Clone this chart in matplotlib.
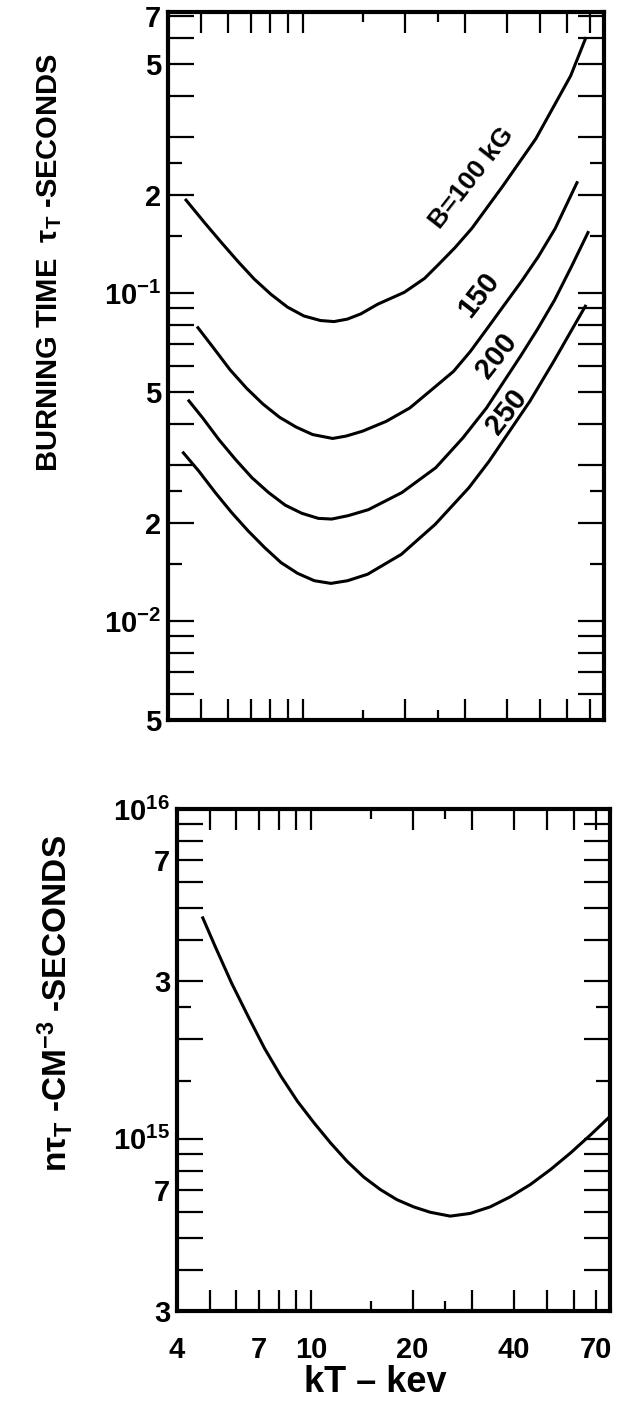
import numpy as np
import matplotlib.pyplot as plt
from matplotlib.ticker import FixedLocator, FixedFormatter, NullFormatter

plt.rcParams['font.family'] = ['Liberation Sans', 'DejaVu Sans']
plt.rcParams['font.weight'] = 'bold'
plt.rcParams['mathtext.fontset'] = 'custom'
plt.rcParams['mathtext.rm'] = 'Liberation Sans:bold'
plt.rcParams['mathtext.bf'] = 'Liberation Sans:bold'
plt.rcParams['mathtext.it'] = 'Liberation Sans:bold'
plt.rcParams['mathtext.default'] = 'bf'

# burning time tau_T (s) vs kT (keV), one curve per field B
kT_100 = [4.49, 5.13, 5.74, 6.43, 7.18, 8.04, 8.99, 10.05, 11.26, 12.33, 13.49, 14.78,
          16.58, 19.87, 22.79, 24.98, 28.01, 31.4, 38.6, 48.5, 61.4, 68.2]
tau_100 = [0.194, 0.164, 0.143, 0.125, 0.1105, 0.0993, 0.0908, 0.0853, 0.0826, 0.0820, 0.0834, 0.0865,
           0.0926, 0.1007, 0.111, 0.122, 0.1377, 0.1576, 0.211, 0.296, 0.46, 0.604]

kT_150 = [4.87, 5.45, 6.09, 6.81, 7.61, 8.52, 9.54, 10.67, 12.22, 13.38, 14.98, 17.57,
          20.62, 23.64, 27.74, 31.11, 34.93, 39.17, 43.93, 49.31, 55.3, 64.4]
tau_150 = [0.0792, 0.0681, 0.0585, 0.0514, 0.046, 0.0419, 0.0391, 0.0371, 0.0361, 0.0367, 0.038, 0.0407,
           0.0447, 0.0503, 0.0578, 0.0665, 0.0783, 0.0922, 0.1085, 0.1293, 0.1576, 0.2195]

kT_200 = [4.58, 5.06, 5.65, 6.33, 7.07, 7.91, 8.86, 9.91, 11.09, 12.14, 13.59, 15.58,
          19.56, 24.6, 29.54, 34.7, 38.93, 43.7, 49.04, 55.02, 61.8, 69.4]
tau_200 = [0.0474, 0.0417, 0.0358, 0.0311, 0.0274, 0.0247, 0.0226, 0.02135, 0.0206, 0.0205, 0.021, 0.0219,
           0.0247, 0.0294, 0.0362, 0.0447, 0.0536, 0.0643, 0.0777, 0.0952, 0.1208, 0.1547]

kT_250 = [4.41, 4.93, 5.51, 6.16, 6.89, 7.70, 8.61, 9.64, 10.79, 12.08, 13.53, 15.5,
          19.47, 24.5, 30.8, 35.35, 40.58, 46.6, 54.75, 61.5, 68.2]
tau_250 = [0.0329, 0.0287, 0.0247, 0.02145, 0.01886, 0.01679, 0.0151, 0.014, 0.0133, 0.01305, 0.0133, 0.01392,
           0.016, 0.01975, 0.02555, 0.0308, 0.038, 0.0469, 0.062, 0.0765, 0.0922]

curve_labels = ['B=100 kG', '150', '200', '250']
label_kT = [31.5, 32.9, 37.2, 39.7]
label_tau = [0.224, 0.099, 0.0643, 0.0436]

# n tau_T (cm^-3 s) vs kT (keV)
kT_n = [4.75, 5.19, 5.81, 6.50, 7.27, 8.14, 9.11, 10.2, 11.42, 12.79, 14.31, 16.03,
        17.96, 20.12, 22.55, 25.84, 29.6, 33.98, 38.95, 44.7, 51.3, 58.8, 67.5, 77.0]
ntau = [4.72e15, 3.83e15, 2.96e15, 2.35e15, 1.88e15, 1.545e15, 1.297e15, 1.116e15, 9.70e14, 8.53e14, 7.65e14, 7.01e14,
        6.53e14, 6.21e14, 5.98e14, 5.82e14, 5.93e14, 6.21e14, 6.66e14, 7.26e14, 8.06e14, 9.05e14, 1.028e15, 1.168e15]

x_major = [4, 5, 6, 7, 8, 9, 10, 20, 30, 40, 50, 60, 70]
x_labels = ['4', '', '', '7', '', '', '10', '20', '', '40', '', '', '70']
x_minor = [15, 25]

top_major = [0.005, 0.006, 0.007, 0.008, 0.009,
             0.01, 0.02, 0.03, 0.04, 0.05, 0.06, 0.07, 0.08, 0.09,
             0.1, 0.2, 0.3, 0.4, 0.5, 0.6, 0.7]
top_labels = ['5', '', '', '', '',
              r'$10^{-2}$', '2', '', '', '5', '', '', '', '',
              r'$10^{-1}$', '2', '', '', '5', '', '7']
top_minor = [0.015, 0.025, 0.15, 0.25]

bot_major = [3e14, 4e14, 5e14, 6e14, 7e14, 8e14, 9e14,
             1e15, 2e15, 3e15, 4e15, 5e15, 6e15, 7e15, 8e15, 9e15, 1e16]
bot_labels = ['3', '', '', '', '7', '', '',
              r'$10^{15}$', '', '3', '', '', '', '7', '', '', r'$10^{16}$']
bot_minor = [1.5e15, 2.5e15]

fig = plt.figure(figsize=(6.17, 14.05), dpi=100)
ax1 = fig.add_axes([0.2723, 0.4875, 0.7066, 0.5039])
ax2 = fig.add_axes([0.2869, 0.0669, 0.7018, 0.3573])


def style(ax, ymaj, ylab, ymin, xlabels_on):
    ax.set_xscale('log')
    ax.set_yscale('log')
    ax.set_xlim(4, 77)
    for s in ax.spines.values():
        s.set_linewidth(3)
    ax.xaxis.set_major_locator(FixedLocator(x_major))
    ax.xaxis.set_minor_locator(FixedLocator(x_minor))
    ax.xaxis.set_minor_formatter(NullFormatter())
    if xlabels_on:
        ax.xaxis.set_major_formatter(FixedFormatter(x_labels))
    else:
        ax.xaxis.set_major_formatter(NullFormatter())
    ax.yaxis.set_major_locator(FixedLocator(ymaj))
    ax.yaxis.set_major_formatter(FixedFormatter(ylab))
    ax.yaxis.set_minor_locator(FixedLocator(ymin))
    ax.yaxis.set_minor_formatter(NullFormatter())
    ax.tick_params(which='both', direction='in', top=True, right=True, width=1.6)
    ax.tick_params(axis='x', which='major', length=15, pad=18, labelsize=21)
    ax.tick_params(axis='x', which='minor', length=7)
    ax.tick_params(axis='y', which='major', length=19, pad=5, labelsize=21)
    ax.tick_params(axis='y', which='minor', length=10)


style(ax1, top_major, top_labels, top_minor, False)
ax1.set_ylim(0.005, 0.72)
for kx, ty in [(kT_100, tau_100), (kT_150, tau_150), (kT_200, tau_200), (kT_250, tau_250)]:
    ax1.plot(kx, ty, color='black', lw=2.2, solid_joinstyle='round', solid_capstyle='butt')

for txt, lx, ly, fs in zip(curve_labels, label_kT, label_tau, [19, 21, 21, 21]):
    ax1.text(lx, ly, txt, rotation=52, rotation_mode='anchor', ha='center', va='center',
             fontsize=fs, fontweight='bold')

style(ax2, bot_major, bot_labels, bot_minor, True)
ax2.set_ylim(3e14, 1e16)
ax2.plot(kT_n, ntau, color='black', lw=2.2, solid_joinstyle='round', solid_capstyle='butt')

fig.text(0.081, 0.8135, r'BURNING TIME  $\tau_T$ -SECONDS', rotation=90,
         ha='center', va='center', fontsize=21, fontweight='bold')
fig.text(0.089, 0.2861, r'$n\tau_T$ -CM$^{-3}$ -SECONDS', rotation=90,
         ha='center', va='center', fontsize=24, fontweight='bold')
fig.text(0.609, 0.0157, 'kT – kev', ha='center', va='center', fontsize=26, fontweight='bold')

fig.savefig('out.png', dpi=100)
